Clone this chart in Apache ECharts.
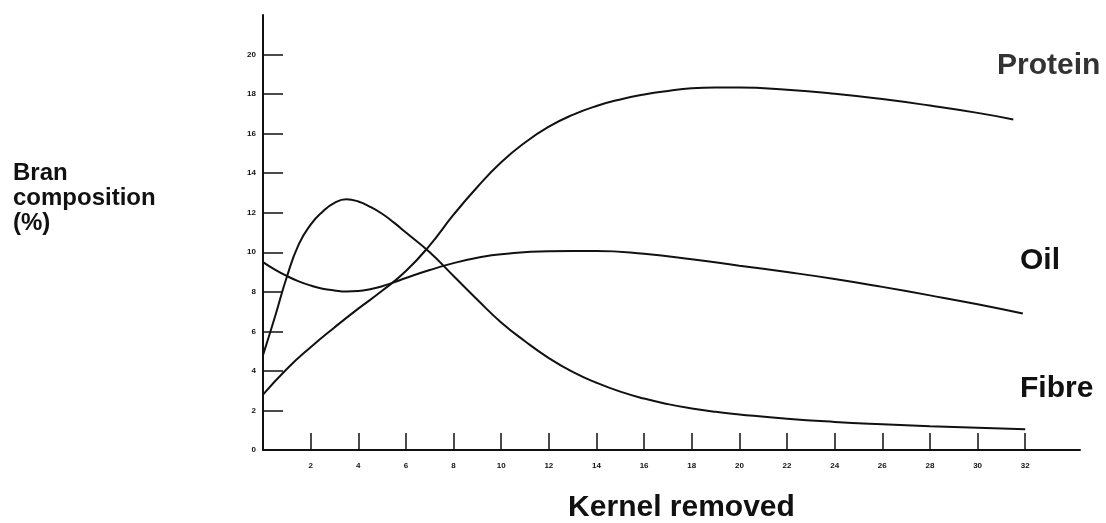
<!DOCTYPE html>
<html>
<head>
<meta charset="utf-8">
<script src="https://cdn.jsdelivr.net/npm/echarts@6/dist/echarts.min.js"></script>
<style>
html,body{margin:0;padding:0;background:#fff;}
#c{width:1106px;height:523px;}
</style>
</head>
<body>
<div id="c"></div>
<script>
// ---- data ----
var xTickValues = [2,4,6,8,10,12,14,16,18,20,22,24,26,28,30,32];
var yTickValues = [0,2,4,6,8,10,12,14,16,18,20];

var proteinX = [0,1,2,3,4,5,6,7,8,9,10,11,12,13,14,15,16,17,18,19,20,22,24,26,28,30,31.5];
var proteinY = [2.8,4.1,5.2,6.2,7.15,8.05,9.05,10.35,11.9,13.3,14.55,15.55,16.35,16.95,17.4,17.73,17.98,18.16,18.29,18.33,18.33,18.22,18.02,17.75,17.42,17.05,16.72];

var oilX = [0,0.5,1,1.5,2,2.5,3,3.5,4,4.5,5,5.5,6,7,8,9,10,12,14,16,18,20,22,24,26,28,30,31.9];
var oilY = [9.5,9.12,8.8,8.53,8.32,8.16,8.07,8.02,8.04,8.13,8.28,8.48,8.7,9.1,9.45,9.72,9.9,10.05,10.06,9.92,9.65,9.32,9.0,8.65,8.25,7.82,7.37,6.9];

var fibreX = [0,0.5,1,1.5,2,2.5,3,3.5,4,4.5,5,5.5,6,7,8,9,10,11,12,13,14,15,16,17,18,19,20,22,24,26,28,30,32];
var fibreY = [4.8,6.73,8.75,10.4,11.4,12.05,12.5,12.68,12.57,12.3,11.95,11.5,11.0,10.0,8.8,7.6,6.45,5.5,4.65,3.95,3.4,2.95,2.6,2.32,2.1,1.93,1.8,1.58,1.42,1.3,1.2,1.12,1.05];

var seriesNames = ['Protein', 'Oil', 'Fibre'];

function zip(xs, ys){ return xs.map(function(x,i){ return [x, ys[i]]; }); }

var ink = '#111';
var chart = echarts.init(document.getElementById('c'), null, {renderer:'canvas'});

function lineSeries(name, xs, ys){
  return {
    name: name, type: 'line', data: zip(xs, ys), smooth: 0.5,
    showSymbol: false, symbol: 'none',
    lineStyle: {color: ink, width: 2}, animation: false
  };
}

chart.setOption({
  animation: false,
  backgroundColor: '#fff',
  grid: {left: 263, right: 26, top: 15, bottom: 73, containLabel: false, outerBoundsMode: 'none'},
  xAxis: {
    type: 'value', min: 0, max: 34.3,
    axisLine: {lineStyle: {color: ink, width: 2}},
    axisTick: {show: true, inside: true, length: 17, customValues: xTickValues, lineStyle: {color: ink, width: 1.5}},
    axisLabel: {customValues: xTickValues, color: ink, fontSize: 8, fontWeight: 'bold', margin: 12, fontFamily: 'Liberation Sans'},
    splitLine: {show: false},
    name: 'Kernel removed', nameLocation: 'middle', nameGap: 43,
    nameTextStyle: {fontFamily: 'Liberation Sans', fontWeight: 'bold', fontSize: 30, color: ink, padding: [0,0,0,20]}
  },
  yAxis: {
    type: 'value', min: 0, max: 22,
    axisLine: {show: true, lineStyle: {color: ink, width: 2}},
    axisTick: {show: true, inside: true, length: 20, customValues: yTickValues.slice(1), lineStyle: {color: ink, width: 1.5}},
    axisLabel: {customValues: yTickValues, color: ink, fontSize: 8, fontWeight: 'bold', margin: 7, fontFamily: 'Liberation Sans'},
    splitLine: {show: false}
  },
  series: [
    lineSeries(seriesNames[0], proteinX, proteinY),
    lineSeries(seriesNames[1], oilX, oilY),
    lineSeries(seriesNames[2], fibreX, fibreY)
  ],
  graphic: [
    {type: 'text', left: 13, top: 161, style: {text: 'Bran\ncomposition\n(%)', font: 'bold 24px "Liberation Sans"', fill: ink, lineHeight: 25}},
    {type: 'text', x: 997, y: 66, style: {text: seriesNames[0], font: 'bold 30px "Liberation Sans"', fill: '#333', verticalAlign: 'middle'}},
    {type: 'text', x: 1020, y: 261, style: {text: seriesNames[1], font: 'bold 30px "Liberation Sans"', fill: ink, verticalAlign: 'middle'}},
    {type: 'text', x: 1020, y: 389, style: {text: seriesNames[2], font: 'bold 30px "Liberation Sans"', fill: ink, verticalAlign: 'middle'}}
  ]
});
</script>
</body>
</html>
